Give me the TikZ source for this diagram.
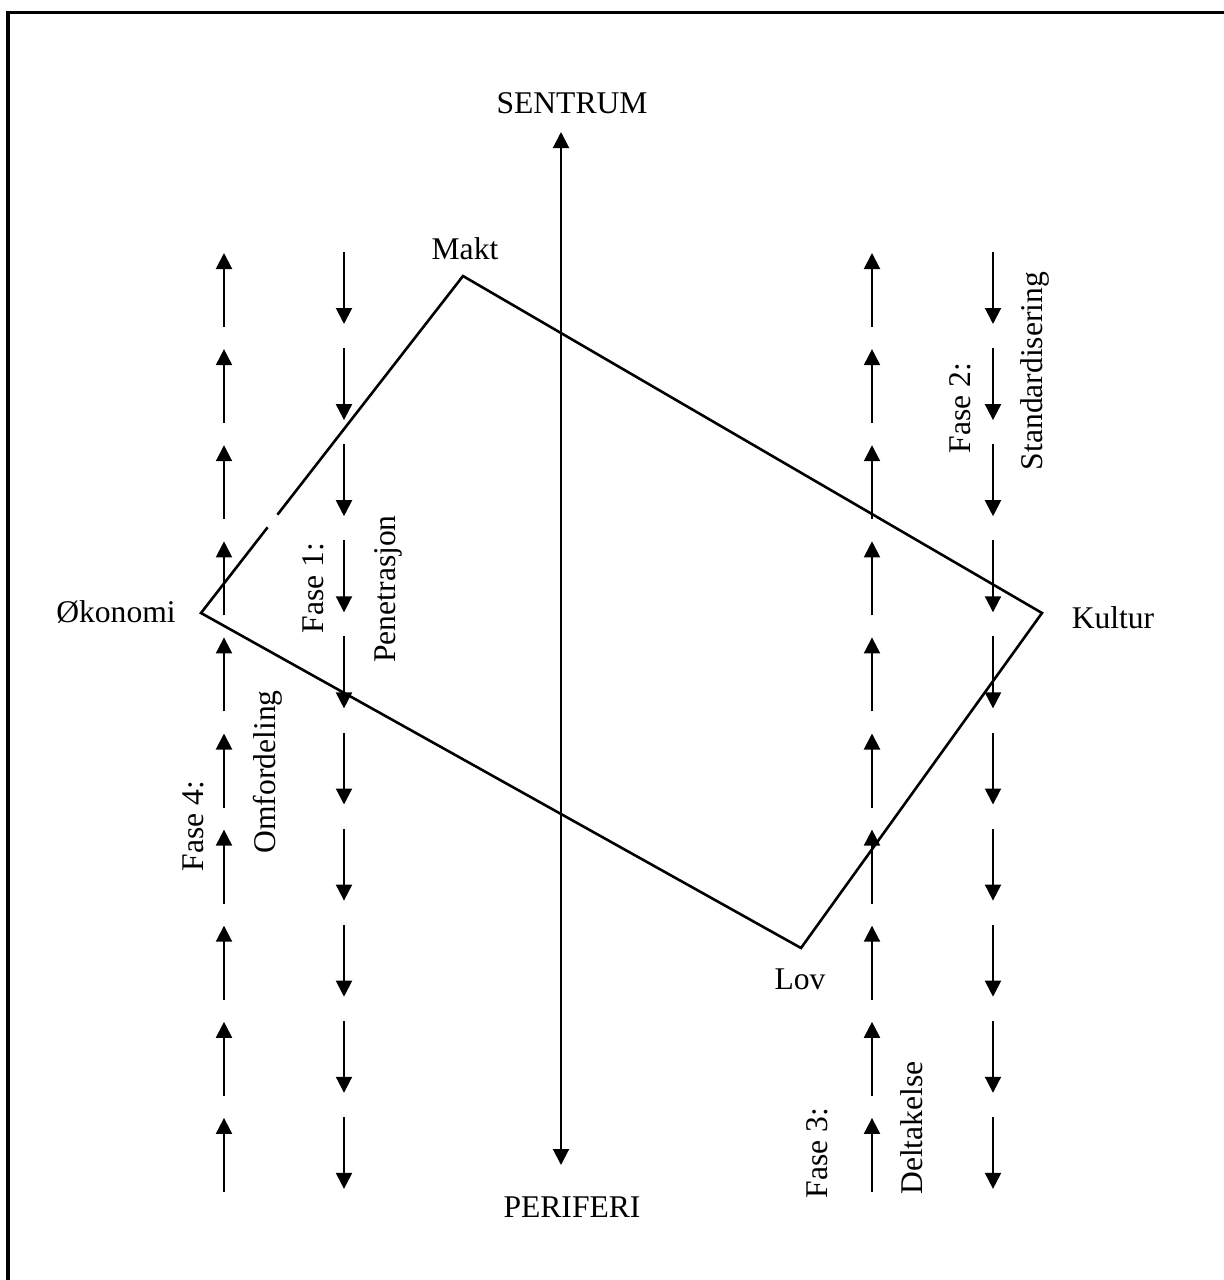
\documentclass[tikz,border=0pt]{standalone}
\usepackage{fontspec}
\setmainfont{Liberation Serif}
\usetikzlibrary{arrows.meta}
\begin{document}
\begin{tikzpicture}[x=0.5pt,y=-0.5pt,
  lbl/.style={font=\fontsize{15.8pt}{18pt}\selectfont, inner sep=0pt, anchor=base},
  vlbl/.style={lbl, rotate=90},
  arr/.style={line width=1pt, -{Triangle[length=8pt,width=8pt]}},
  dbl/.style={line width=1pt, {Triangle[length=8pt,width=8pt]}-{Triangle[length=8pt,width=8pt]}},
  quadline/.style={line width=1.3pt, line join=miter},
  frameline/.style={line width=1.6pt}]
\useasboundingbox (0,0) rectangle (1224,1280);
\clip (0,0) rectangle (1224,1280);
% frame
\coordinate (fbl) at (8,1300);
\coordinate (ftl) at (8,12.5);
\coordinate (ftr) at (1240,12.5);
\draw[frameline] (fbl) -- (ftl) -- (ftr);
% central axis
\node[lbl] (sentrum) at (572,113) {SENTRUM};
\node[lbl] (periferi) at (572,1217) {PERIFERI};
\coordinate (axtop) at (561,132);
\coordinate (axbot) at (561,1165);
\draw[dbl] (axbot) -- (axtop);
% quadrilateral
\coordinate (M) at (463,276);
\coordinate (K) at (1042,613);
\coordinate (L) at (801,948);
\coordinate (O) at (201,613);
\draw[quadline] (M) -- (K) -- (L) -- (O) -- cycle;
\coordinate (g1) at (267.5,527);
\coordinate (g2) at (277,514.5);
\draw[white, line width=2.2pt] (g1) -- (g2);
\node[lbl] (makt) at (465,259) {Makt};
\node[lbl] (okonomi) at (116,622) {Økonomi};
\node[lbl] (kultur) at (1113,628) {Kultur};
\node[lbl] (lov) at (800,989) {Lov};
% arrow columns
\foreach \k in {0,...,9} {
  \coordinate (a\k s) at (224,{327+96.1*\k});
  \coordinate (a\k e) at (224,{253+96.1*\k});
  \draw[arr] (a\k s) -- (a\k e);
  \coordinate (b\k s) at (344,{252+96.1*\k});
  \coordinate (b\k e) at (344,{324+96.1*\k});
  \draw[arr] (b\k s) -- (b\k e);
  \coordinate (c\k s) at (872,{327+96.1*\k});
  \coordinate (c\k e) at (872,{253+96.1*\k});
  \draw[arr] (c\k s) -- (c\k e);
  \coordinate (d\k s) at (993,{252+96.1*\k});
  \coordinate (d\k e) at (993,{324+96.1*\k});
  \draw[arr] (d\k s) -- (d\k e);
}
% phase labels
\node[vlbl] (f1) at (323,588) {Fase 1:};
\node[vlbl] (f1t) at (395,589) {Penetrasjon};
\node[vlbl] (f2) at (970,408) {Fase 2:};
\node[vlbl] (f2t) at (1042,371) {Standardisering};
\node[vlbl] (f3) at (827,1153) {Fase 3:};
\node[vlbl] (f3t) at (922,1128) {Deltakelse};
\node[vlbl] (f4) at (203,826) {Fase 4:};
\node[vlbl] (f4t) at (275,772) {Omfordeling};
\end{tikzpicture}
\end{document}
